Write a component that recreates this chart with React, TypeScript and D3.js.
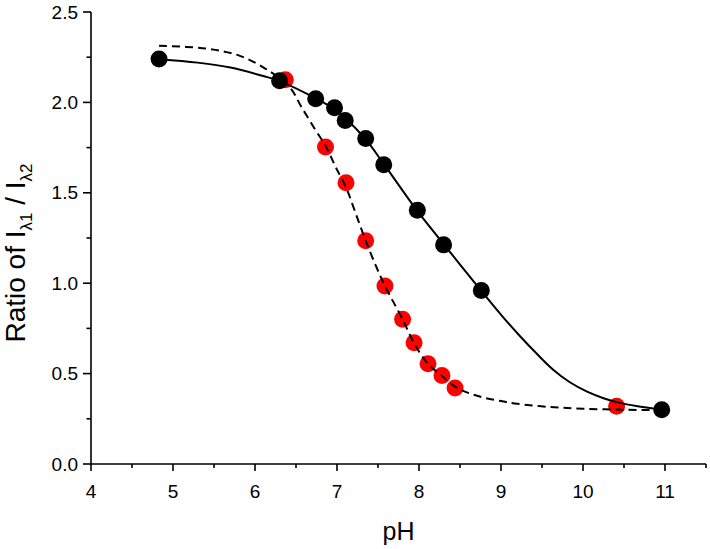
import React from "react";
import * as d3 from "d3";

// Measured data (pH, ratio)
const blackPH = [4.83, 6.3, 6.74, 6.97, 7.1, 7.35, 7.57, 7.98, 8.3, 8.76, 10.96];
const blackRatio = [2.24, 2.12, 2.02, 1.97, 1.9, 1.8, 1.655, 1.403, 1.212, 0.96, 0.3];

const redPH = [6.37, 6.86, 7.11, 7.35, 7.585, 7.8, 7.94, 8.11, 8.28, 8.44, 10.41];
const redRatio = [2.125, 1.753, 1.555, 1.235, 0.985, 0.8, 0.67, 0.555, 0.49, 0.42, 0.32];

// Fit curves
const solidFitPH = [4.83, 5.3, 5.7, 6.1, 6.3, 6.73, 6.97, 7.11, 7.35, 7.57, 7.97, 8.31, 8.76, 9.03, 9.23, 9.44, 9.64, 9.84, 10.05, 10.25, 10.45, 10.65, 10.96];
const solidFitRatio = [2.239, 2.22, 2.193, 2.146, 2.118, 2.025, 1.962, 1.91, 1.795, 1.66, 1.405, 1.211, 0.958, 0.81, 0.708, 0.608, 0.52, 0.452, 0.4, 0.364, 0.338, 0.321, 0.302];

const dashedFitPH = [4.83, 5.4, 5.8, 6.14, 6.43, 6.56, 6.72, 6.87, 6.98, 7.11, 7.22, 7.35, 7.48, 7.585, 7.8, 7.94, 8.11, 8.28, 8.44, 8.62, 8.8, 9.0, 9.2, 9.6, 10.0, 10.5, 10.94];
const dashedFitRatio = [2.313, 2.298, 2.26, 2.183, 2.08, 1.98, 1.86, 1.752, 1.646, 1.53, 1.396, 1.235, 1.09, 0.985, 0.8, 0.668, 0.554, 0.487, 0.428, 0.39, 0.366, 0.348, 0.333, 0.315, 0.306, 0.3, 0.298];

const xTicks = [4, 5, 6, 7, 8, 9, 10, 11];
const xMinor = [4.5, 5.5, 6.5, 7.5, 8.5, 9.5, 10.5, 11.5];
const yTicks = [0, 0.5, 1.0, 1.5, 2.0, 2.5];
const yMinor = [0.25, 0.75, 1.25, 1.75, 2.25];

const W = 710;
const H = 549;
const FONT = "'Liberation Sans', Arial, sans-serif";

export default function App() {
  const x = d3.scaleLinear().domain([4, 11.5]).range([91, 706]);
  const y = d3.scaleLinear().domain([0, 2.5]).range([464, 12]);

  const line = d3
    .line<[number, number]>()
    .x((d) => x(d[0]))
    .y((d) => y(d[1]))
    .curve(d3.curveCatmullRom.alpha(0.5));

  const solidPts: [number, number][] = solidFitPH.map((p, i) => [p, solidFitRatio[i]]);
  const dashedPts: [number, number][] = dashedFitPH.map((p, i) => [p, dashedFitRatio[i]]);

  const x0 = x(4);
  const y0 = y(0);
  const r = 8.5;

  return (
    <svg
      width={W}
      height={H}
      style={{ position: "absolute", left: 0, top: 0, background: "#fff" }}
      fontFamily={FONT}
    >
      {/* red points */}
      {redPH.map((p, i) => (
        <circle key={"r" + i} cx={x(p)} cy={y(redRatio[i])} r={r} fill="#ff0000" />
      ))}
      {/* black points */}
      {blackPH.map((p, i) => (
        <circle key={"b" + i} cx={x(p)} cy={y(blackRatio[i])} r={r} fill="#000" />
      ))}
      {/* fit lines */}
      <path d={line(dashedPts) || ""} fill="none" stroke="#000" strokeWidth={2} strokeDasharray="8,5" />
      <path d={line(solidPts) || ""} fill="none" stroke="#000" strokeWidth={2} />

      {/* axes */}
      <line x1={x0} x2={x0} y1={y(2.5)} y2={y0} stroke="#000" strokeWidth={1.6} />
      <line x1={x0} x2={x(11.5)} y1={y0} y2={y0} stroke="#000" strokeWidth={1.6} />

      {yTicks.map((t) => (
        <g key={"yt" + t}>
          <line x1={x0 - 8} x2={x0} y1={y(t)} y2={y(t)} stroke="#000" strokeWidth={1.6} />
          <text x={x0 - 13} y={y(t)} dy="0.35em" textAnchor="end" fontSize={19} fill="#000">
            {t.toFixed(1)}
          </text>
        </g>
      ))}
      {yMinor.map((t) => (
        <line key={"ym" + t} x1={x0 - 4.5} x2={x0} y1={y(t)} y2={y(t)} stroke="#000" strokeWidth={1.6} />
      ))}
      {xTicks.map((t) => (
        <g key={"xt" + t}>
          <line x1={x(t)} x2={x(t)} y1={y0} y2={y0 + 7} stroke="#000" strokeWidth={1.6} />
          <text x={x(t)} y={498} textAnchor="middle" fontSize={19} fill="#000">
            {t}
          </text>
        </g>
      ))}
      {xMinor.map((t) => (
        <line key={"xm" + t} x1={x(t)} x2={x(t)} y1={y0} y2={y0 + 4} stroke="#000" strokeWidth={1.6} />
      ))}

      {/* axis titles */}
      <text x={(x0 + x(11.5)) / 2} y={540} textAnchor="middle" fontSize={25} fill="#000">
        pH
      </text>
      <text
        transform={`translate(25, 253) rotate(-90)`}
        textAnchor="middle"
        fontSize={28}
        fill="#000"
      >
        Ratio of I
        <tspan fontSize={17} dy={7}>λ1</tspan>
        <tspan dy={-7}> / I</tspan>
        <tspan fontSize={17} dy={7}>λ2</tspan>
      </text>
    </svg>
  );
}
